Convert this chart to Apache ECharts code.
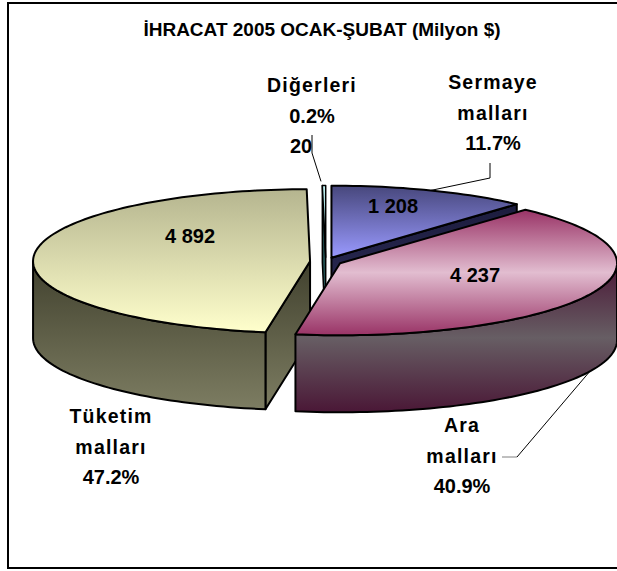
<!DOCTYPE html>
<html><head><meta charset="utf-8">
<script src="https://cdn.jsdelivr.net/npm/echarts@6/dist/echarts.min.js"></script>
<style>
html,body{margin:0;padding:0;background:#fff}
#c{width:617px;height:571px}
#c text[style*="19.5px"]{letter-spacing:1.2px}
</style></head><body><div id="c"></div>
<script>
const titleText = 'İHRACAT 2005 OCAK-ŞUBAT (Milyon $)';
const sliceNames = ['Sermaye\nmalları', 'Ara\nmalları', 'Tüketim\nmalları', 'Diğerleri'];
const sliceValues = [1208, 4237, 4892, 20];
const valueLabels = ['1 208', '4 237', '4 892', '20'];
const percentLabels = ['11.7%', '40.9%', '47.2%', '0.2%'];
const drawOrder = [0, 3, 2, 1];

// layout and style
const C = {x: 325.8, y: 261.5, rx: 277, ry: 72, depth: 77, explode: 0.057};
const TOTAL = sliceValues.reduce((a, b) => a + b, 0);
const spans = [];
sliceValues.reduce((acc, v, i) => { spans[i] = [acc / TOTAL * 360, (acc + v) / TOTAL * 360]; return acc + v; }, 0);
const grad = (stops) => ({type: 'linear', x: 0, y: 0, x2: 0, y2: 1, colorStops: stops.map((c, i) => ({offset: i / (stops.length - 1), color: c}))});
const styles = [
  {top: grad(['#47477c', '#9a9aff']), wall: grad(['#1c1c3e', '#2c2c55']), cut: grad(['#1c1c3e', '#30305c'])},
  {top: grad(['#993366', '#e2bdd0', '#993366']), wall: grad(['#4a1736', '#675e64', '#4a1736']), cut: grad(['#4a1736', '#675e64'])},
  {top: grad(['#b5b58f', '#ffffcc']), wall: grad(['#41412e', '#7d7d62']), cut: grad(['#41412e', '#7d7d62'])},
  {top: grad(['#ccffff', '#66aaaa']), wall: grad(['#103838', '#336666']), cut: grad(['#103838', '#336666'])}
];
const labelBoxes = [
  {name: [493, 82], val: [393, 206]},
  {name: [462, 425], val: [475, 275]},
  {name: [111, 416], val: [190, 236]},
  {name: [312, 85], val: [301, 146]}
];
const LINE = 30.5;
const rad = d => d * Math.PI / 180;
function centerOf(i) {
  const m = rad((spans[i][0] + spans[i][1]) / 2);
  return {x: C.x + C.rx * C.explode * Math.sin(m), y: C.y - C.ry * C.explode * Math.cos(m)};
}
function rim(c, deg, dy) {
  return [c.x + C.rx * Math.sin(rad(deg)), c.y - C.ry * Math.cos(rad(deg)) + (dy || 0)];
}
function arc(c, a, b, dy) {
  const n = Math.max(2, Math.ceil(Math.abs(b - a) / 1.5)), pts = [];
  for (let k = 0; k <= n; k++) pts.push(rim(c, a + (b - a) * k / n, dy));
  return pts;
}
const edge = {stroke: '#000', lineWidth: 2, lineJoin: 'round'};
function poly(points, fill, lw) {
  return {type: 'polygon', shape: {points}, style: Object.assign({}, edge, {fill, lineWidth: lw || 2})};
}
function renderSlice(params, api) {
  const i = api.value(0), [a, b] = spans[i], c = centerOf(i), s = styles[i], lw = i === 3 ? 1.5 : 2;
  const children = [];
  if (b > 0 && b < 180) {
    const r = rim(c, b);
    children.push(poly([[c.x, c.y], r, [r[0], r[1] + C.depth], [c.x, c.y + C.depth]], s.cut, lw));
  }
  if (a > 180 && a < 360) {
    const r = rim(c, a);
    children.push(poly([[c.x, c.y], r, [r[0], r[1] + C.depth], [c.x, c.y + C.depth]], s.cut, lw));
  }
  const wa = Math.max(a, 90), wb = Math.min(b, 270);
  if (wb > wa) {
    children.push(poly(arc(c, wa, wb).concat(arc(c, wb, wa, C.depth)), s.wall, lw));
  }
  children.push(poly([[c.x, c.y]].concat(arc(c, a, b)), s.top, lw));
  return {type: 'group', children};
}
const textStyle = (x, y, text, size) => ({type: 'text', x, y, style: {
  text, x: 0, y: 0, align: 'center', verticalAlign: 'middle', fill: '#000',
  font: 'bold ' + size + 'px "Liberation Sans", Arial, sans-serif'}});
const leader = (points, color) => ({type: 'polyline', shape: {points}, style: {stroke: color || '#000', lineWidth: 1, fill: 'none'}});
function renderLabel(params, api) {
  const i = api.value(0), box = labelBoxes[i], kids = [];
  const lines = sliceNames[i].split('\n').concat(percentLabels[i]);
  lines.forEach((t, k) => kids.push(textStyle(box.name[0], box.name[1] + k * LINE, t, /%/.test(t) ? 20 : 19.5)));
  kids.push(textStyle(box.val[0], box.val[1], valueLabels[i], 20));
  const mid = (spans[i][0] + spans[i][1]) / 2, c = centerOf(i);
  if (i === 0) { const e = rim(c, mid); kids.push(leader([[490, 163], [490, 178], e])); }
  if (i === 1) { const e = rim(c, mid, C.depth); kids.push(leader([[502, 457], [517, 457]], '#808080')); kids.push(leader([[517, 457], e])); }
  if (i === 3) { const e = rim(c, mid); kids.push(leader([[312, 135], [312, 153], [e[0] - 3, e[1] - 4]])); }
  return {type: 'group', children: kids};
}
const chart = echarts.init(document.getElementById('c'), null, {renderer: 'svg'});
chart.setOption({
  animation: false,
  backgroundColor: '#fff',
  title: {text: titleText, left: 317, top: 15, textAlign: 'center',
    textStyle: {fontFamily: '"Liberation Sans", Arial, sans-serif', fontWeight: 'bold', fontSize: 19, color: '#000'}},
  graphic: [{type: 'polyline', shape: {points: [[617, 3], [8, 3], [8, 568], [617, 568]]}, style: {stroke: '#000', lineWidth: 2, fill: 'none'}}],
  series: [
    {type: 'custom', coordinateSystem: 'none', silent: true, z: 2, renderItem: renderSlice,
     data: drawOrder.map(i => [i, sliceValues[i]])},
    {type: 'custom', coordinateSystem: 'none', silent: true, z: 3, renderItem: renderLabel,
     data: sliceValues.map((v, i) => [i, v])}
  ]
});
</script></body></html>
